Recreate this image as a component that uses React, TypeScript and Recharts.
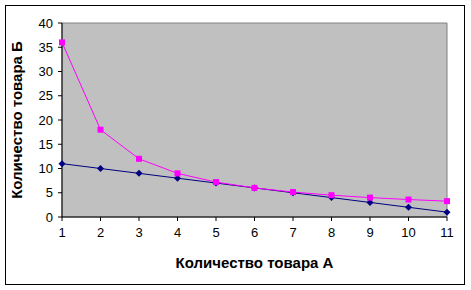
import { LineChart, Line, XAxis, YAxis, CartesianGrid, Label, ReferenceArea } from 'recharts'

// Данные из исходного графика
const quantityA = [1, 2, 3, 4, 5, 6, 7, 8, 9, 10, 11]
const linearB = [11, 10, 9, 8, 7, 6, 5, 4, 3, 2, 1]
const hyperbolaB = [36, 18, 12, 9, 7.2, 6, 5.14, 4.5, 4, 3.6, 3.27]
const yTicks = [0, 5, 10, 15, 20, 25, 30, 35, 40]

const data = quantityA.map((a, i) => ({ a, linear: linearB[i], hyper: hyperbolaB[i] }))

const font = 'Arial, "Liberation Sans", sans-serif'

function Diamond(props: { cx?: number; cy?: number }) {
  const { cx, cy } = props
  if (cx == null || cy == null) return null
  return <path d={`M${cx},${cy - 3.5}L${cx + 3.5},${cy}L${cx},${cy + 3.5}L${cx - 3.5},${cy}Z`} fill="#000080" />
}

function Square(props: { cx?: number; cy?: number }) {
  const { cx, cy } = props
  if (cx == null || cy == null) return null
  return <rect x={cx - 3} y={cy - 3} width={6} height={6} fill="#ff00ff" />
}

export default function App() {
  return (
    <div style={{ position: 'absolute', left: 0, top: 0, width: 471, height: 290, background: '#fff' }}>
      <div style={{ position: 'absolute', left: 5, top: 5, width: 458, height: 278, border: '1px solid #000' }} />
      <LineChart
        width={471}
        height={290}
        data={data}
        margin={{ top: 23, right: 24, left: 7, bottom: 22 }}
        style={{ position: 'absolute', left: 0, top: 0, fontFamily: font }}
      >
        <CartesianGrid fill="#c0c0c0" horizontal={false} vertical={false} />
        {/* рамка области построения */}
        <ReferenceArea x1={1} x2={11} y1={0} y2={40} fill="none" stroke="#808080" strokeWidth={1} />
        <XAxis
          dataKey="a"
          height={51}
          stroke="#000"
          tickSize={4}
          tick={{ fill: '#000', fontSize: 13 }}
          tickMargin={7}
        >
          <Label
            value="Количество товара А"
            position="insideBottom"
            offset={0}
            style={{ fontSize: 15, fontWeight: 'bold', fill: '#000' }}
          />
        </XAxis>
        <YAxis
          domain={[0, 40]}
          ticks={yTicks}
          width={55}
          stroke="#000"
          tickSize={4}
          tick={{ fill: '#000', fontSize: 13 }}
          tickMargin={5}
        >
          <Label
            value="Количество товара Б"
            angle={-90}
            position="insideLeft"
            offset={10}
            style={{ fontSize: 15, fontWeight: 'bold', fill: '#000', textAnchor: 'middle' }}
          />
        </YAxis>
        <Line
          dataKey="linear"
          stroke="#000080"
          strokeWidth={1}
          dot={<Diamond />}
          isAnimationActive={false}
        />
        <Line
          dataKey="hyper"
          stroke="#ff00ff"
          strokeWidth={1}
          dot={<Square />}
          isAnimationActive={false}
        />
      </LineChart>
    </div>
  )
}
